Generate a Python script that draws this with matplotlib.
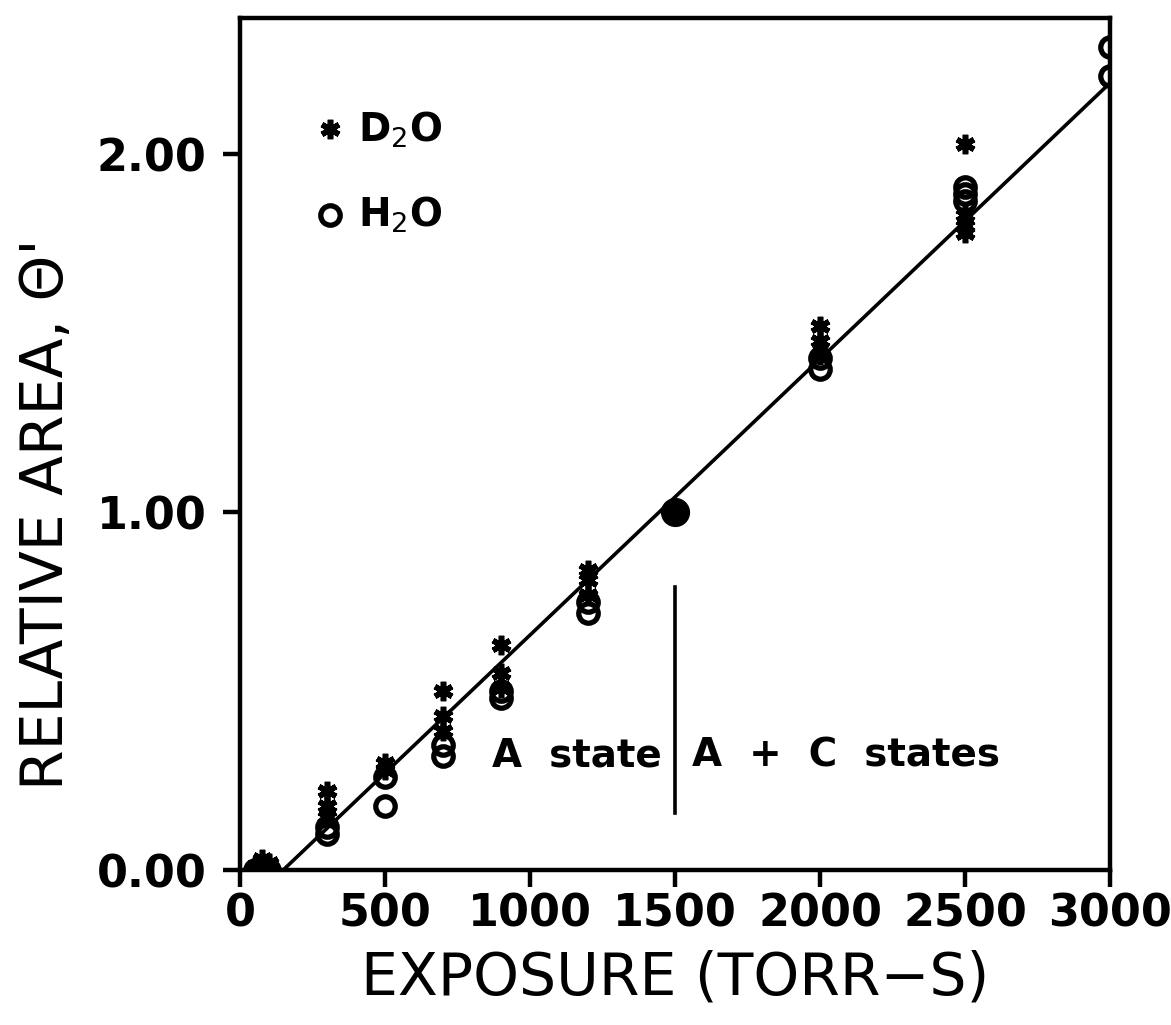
import matplotlib
matplotlib.use("Agg")
import matplotlib.pyplot as plt

plt.rcParams['font.family'] = ['DejaVu Sans']

# D2O points (asterisks)
d2o_x = [50, 75, 100, 300, 300, 300, 500, 500, 700, 700, 700, 900, 900, 900,
         1200, 1200, 1200, 2000, 2000, 2000, 2500, 2500, 2500, 2500]
d2o_y = [0.01, 0.03, 0.02, 0.22, 0.18, 0.15, 0.30, 0.28, 0.50, 0.43, 0.39, 0.63, 0.55, 0.51,
         0.84, 0.81, 0.77, 1.52, 1.48, 1.44, 2.03, 1.83, 1.80, 1.78]

# H2O points (open circles)
h2o_x = [50, 75, 100, 300, 300, 500, 500, 700, 700, 900, 900,
         1200, 1200, 2000, 2000, 2500, 2500, 2500, 3000, 3000]
h2o_y = [0.00, 0.01, 0.00, 0.12, 0.10, 0.26, 0.18, 0.35, 0.32, 0.50, 0.48,
         0.75, 0.72, 1.43, 1.40, 1.91, 1.89, 1.87, 2.30, 2.22]

# normalisation point
ref_x = [1500]
ref_y = [1.00]

# fitted line
fit_x = [148, 3000]
fit_y = [0.0, 2.2]

fig = plt.figure(figsize=(11.71, 10.25), dpi=100)
ax = fig.add_axes([0.205, 0.151, 0.743, 0.831])

ax.plot(fit_x, fit_y, color='black', lw=2.6, zorder=1)
ax.plot(d2o_x, d2o_y, ls='none', marker=(6, 2, 0), ms=14, mew=4, color='black', zorder=3)
ax.plot(h2o_x, h2o_y, ls='none', marker='o', ms=14, mew=3.8, mfc='none', mec='black', zorder=3)
ax.plot(ref_x, ref_y, ls='none', marker='o', ms=20, color='black', zorder=3)

# A / A + C divider
ax.plot([1500, 1500], [0.16, 0.79], color='black', lw=2.6)
ax.text(870, 0.32, 'A  state', fontsize=28, fontweight='bold', va='center')
ax.text(1560, 0.32, 'A  +  C  states', fontsize=28, fontweight='bold', va='center')

# legend drawn by hand
ax.plot([310], [2.07], ls='none', marker=(6, 2, 0), ms=14, mew=4, color='black')
ax.plot([310], [1.83], ls='none', marker='o', ms=14, mew=3.8, mfc='none', mec='black')
ax.text(405, 2.07, 'D$_2$O', fontsize=28, fontweight='bold', va='center')
ax.text(405, 1.83, 'H$_2$O', fontsize=28, fontweight='bold', va='center')

ax.set_xlim(0, 3000)
ax.set_ylim(0, 2.38)
ax.set_xticks([0, 500, 1000, 1500, 2000, 2500, 3000])
ax.set_yticks([0.0, 1.0, 2.0])
ax.set_yticklabels(['0.00', '1.00', '2.00'])
for s in ax.spines.values():
    s.set_linewidth(3.2)
ax.tick_params(axis='both', direction='out', length=12, width=3.2, labelsize=32)
ax.tick_params(axis='y', pad=12)
ax.tick_params(axis='x', pad=4)
for lab in ax.get_xticklabels() + ax.get_yticklabels():
    lab.set_fontweight('bold')

ax.set_xlabel('EXPOSURE (TORR\u2212S)', fontsize=42, labelpad=10)
ax.set_ylabel("RELATIVE AREA, \u0398'", fontsize=42)
ax.yaxis.set_label_coords(-0.19, 0.418)

fig.savefig('out.png', dpi=100)
